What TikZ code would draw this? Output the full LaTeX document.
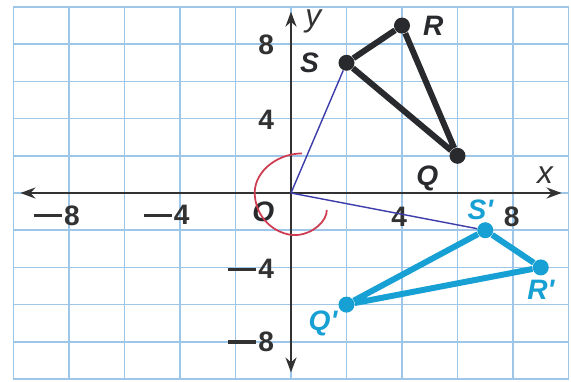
\documentclass[tikz,border=0pt]{standalone}
\usepackage{fontspec}
\setmainfont{Liberation Sans}
\usetikzlibrary{positioning, arrows.meta}
\definecolor{gridblue}{RGB}{158,198,232}
\definecolor{axisgray}{RGB}{50,50,50}
\definecolor{triblack}{RGB}{40,42,45}
\definecolor{tricyan}{RGB}{22,160,212}
\definecolor{rayblue}{RGB}{60,60,170}
\definecolor{markred}{RGB}{205,60,80}
\newcommand\negsign{\rule[0.27em]{1.0em}{0.13em}\hspace{0.08em}}
\tikzset{
  > = {Stealth[length = 3mm, width = 2.2mm]},
  gridline/.style = {gridblue, line width = 1pt},
  axis/.style = {<->, axisgray, line width = 1.3pt},
  ticklabel/.style = {text = axisgray, inner sep = 0pt,
    font = \fontsize{16}{18}\selectfont\bfseries},
  axislabel/.style = {ticklabel, font = \fontsize{18}{20}\selectfont\itshape},
  ray/.style = {rayblue, line width = 0.8pt},
  original/.style = {triblack, line width = 3.4pt, line join = round},
  rotated/.style = {original, tricyan},
  blackdot/.style = {circle, fill = triblack, inner sep = 0pt,
    minimum size = 0.32cm},
  cyandot/.style = {blackdot, fill = tricyan},
  blacklabel/.style = {ticklabel, text = triblack,
    font = \fontsize{16}{18}\selectfont\bfseries\itshape},
  cyanlabel/.style = {blacklabel, text = tricyan}
}

\begin{document}
\begin{tikzpicture}[x = 0.555cm, y = 0.372cm]

\useasboundingbox [fill = white] (-10.486,-10.108) rectangle (10.09,10.376);

\draw [gridline] (-10,-10) grid [step = 2] (10,10);

\coordinate (O) at (0,0);
\coordinate (xmin) at (-9.75,0);
\coordinate (xmax) at (9.75,0);
\coordinate (ymin) at (0,-9.65);
\coordinate (ymax) at (0,9.75);

\draw [axis] (xmin) -- (xmax);
\draw [axis] (ymin) -- (ymax);

\node [axislabel] (xlab) at (9.15,0.97) {x};
\node [axislabel] (ylab) at (0.8,9.2) {y};

\node [ticklabel, anchor = east] (xm8) at (-7.6,-1.2) {\negsign 8};
\node [ticklabel, anchor = east] (xm4) at (-3.64,-1.2) {\negsign 4};
\node [ticklabel] (xp4) at (3.9,-1.27) {4};
\node [ticklabel] (xp8) at (7.95,-1.27) {8};
\node [ticklabel, anchor = east] (yp8) at (-0.6,7.96) {8};
\node [ticklabel, anchor = east] (yp4) at (-0.6,3.92) {4};
\node [ticklabel, anchor = east] (ym4) at (-0.6,-4.1) {\negsign 4};
\node [ticklabel, anchor = east] (ym8) at (-0.6,-8.0) {\negsign 8};
\node [blacklabel] (olab) at (-1.0,-1.0) {O};

% original triangle
\node [blackdot] (Q) at (6,2) {};
\node [blackdot] (R) at (4,9) {};
\node [blackdot] (S) at (2,7) {};

% image after rotation
\node [cyandot] (Qp) at (2,-6) {};
\node [cyandot] (Rp) at (9,-4) {};
\node [cyandot] (Sp) at (7,-2) {};

\draw [ray] (O) -- (S);
\draw [ray] (O) -- (Sp);

\draw [markred, line width = 1pt] (0.39,2.13)
  .. controls (-0.6,2.1) and (-1.4,1.0) .. (-1.3,-0.2)
  .. controls (-1.2,-1.6) and (-0.4,-2.3) .. (0.2,-2.26)
  .. controls (0.8,-2.2) and (1.3,-1.5) .. (1.29,-0.91);

\draw [original] (S) -- (R) -- (Q) -- (S);
\draw [rotated] (Sp) -- (Rp) -- (Qp) -- (Sp);

\node [blacklabel, left = 0.38cm of S] (Slab) {S};
\node [blacklabel, right = 0.25cm of R] (Rlab) {R};
\node [blacklabel, below left = 0.07cm and 0.26cm of Q] (Qlab) {Q};

\node [cyanlabel, above = 0.03cm of Sp, xshift = -0.1cm] (Splab) {S\textquotesingle};
\node [cyanlabel, below = 0.08cm of Rp] (Rplab) {R\textquotesingle};
\node [cyanlabel, below left = 0cm and 0.06cm of Qp] (Qplab) {Q\textquotesingle};

\end{tikzpicture}
\end{document}
